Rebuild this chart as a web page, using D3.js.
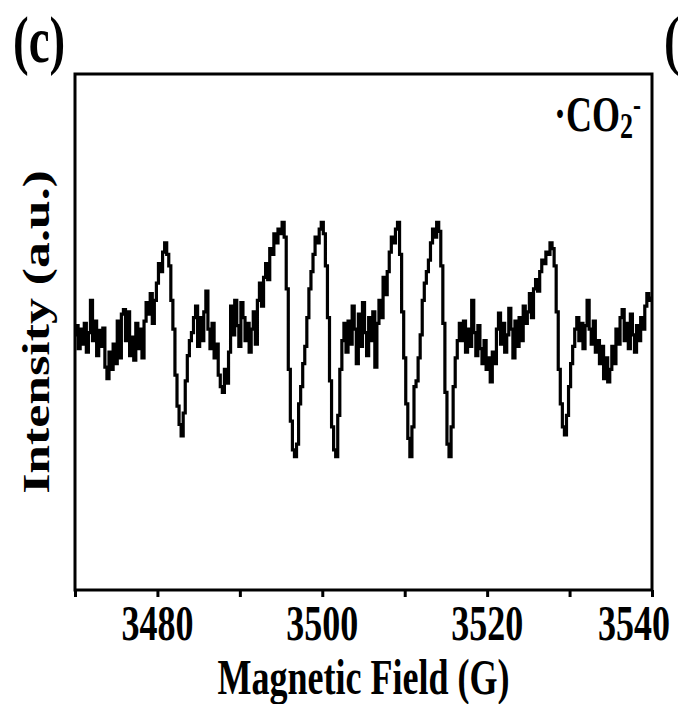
<!DOCTYPE html>
<html>
<head>
<meta charset="utf-8">
<script src="https://cdn.jsdelivr.net/npm/d3@7"></script>
<style>
  body { margin: 0; background: #fff; }
  svg text { font-family: "Liberation Serif", "Times New Roman", serif; font-weight: bold; fill: #000; }
</style>
</head>
<body>
<svg id="chart"></svg>
<script>
const width = 678
const height = 704
const margin = {left: 75, right: 26, top: 74, bottom: 114}

// field axis: sweep start, step (G) and tick labels
const fieldStart = 3470
const fieldEnd = 3540
const fieldStep = 0.25
const tickValues = [3470, 3480, 3490, 3500, 3510, 3520, 3530, 3540]
const tickLabels = ['', '3480', '', '3500', '', '3520', '', '3540']

// intensity (a.u.), one row per gauss (4 samples each)
const intensity = [
  0, 8, -12, 5,        // 3470
  -8, 10, -15, 2,
  30, -5, 12, -18,
  4, -10, 6, -28,
  -38, -15, -30, -8,
  -25, 12, -20, 18,    // 3475
  22, -5, 20, -18,
  -2, -22, 10, -12,
  5, -20, 12, 28,
  18, 36, 10, 30,
  45, 62, 55, 72,      // 3480
  80, 70, 60, 30,
  5, -35, -62, -78,
  -88, -68, -40, -18,
  -5, 2, 15, 25,
  -10, 15, -5, 20,     // 3485
  38, 5, -12, 10,
  -20, -8, -35, -45,
  -50, -30, -42, -15,
  25, 0, 30, 8,
  -10, 28, 15, -5,     // 3490
  10, -15, 5, 20,
  -8, 30, 45, 25,
  50, 62, 48, 75,
  70, 88, 80, 92,
  88, 98, 85, 40,      // 3495
  -30, -75, -100, -106,
  -95, -60, -45, -25,
  -10, 15, 40, 55,
  70, 85, 80, 92,
  98, 88, 60, 15,      // 3500
  -40, -80, -100, -106,
  -70, -30, -5, 10,
  -15, 12, -8, 25,
  5, -25, 18, -10,
  28, 2, -18, 15,      // 3505
  -5, 20, -28, 10,
  30, 15, 50, 35,
  55, 72, 85, 80,
  92, 98, 70, 20,
  -20, -60, -90, -106, // 3510
  -80, -45, -40, -20,
  0, 30, 45, 55,
  65, 80, 92, 85,
  98, 90, 60, 10,
  -50, -95, -106, -80, // 3515
  -45, -20, -5, 10,
  -5, 12, -15, 5,
  -10, 30, 2, -18,
  8, -12, -25, -5,
  -30, -20, -41, -15,  // 3520
  -25, 5, 19, -8,
  10, -15, 0, 23,
  5, -20, 12, -10,
  15, -5, 25, 10,
  20, 36, 15, 40,      // 3525
  48, 38, 55, 65,
  62, 72, 70, 80,
  75, 60, 20, -30,
  -60, -80, -87, -70,
  -45, -25, -10, 5,    // 3530
  15, -5, 10, -12,
  8, 30, 5, -8,
  12, -15, -5, -25,
  -10, -38, -20, -41,
  -30, -10, -25, 5,    // 3535
  -8, 15, 22, -5,
  10, -12, 18, 0,
  -15, 8, -5, 15,
  5, 25, 36, 30,
  32                   // 3540
]

const field = d3.range(intensity.length).map(i => fieldStart + i * fieldStep)
const spectrum = field.map((f, i) => ({field: f, value: intensity[i]}))

const svg = d3.select('#chart').attr('width', width).attr('height', height)

const x = d3.scaleLinear()
  .domain([fieldStart, fieldEnd])
  .range([margin.left, width - margin.right])
const y = d3.scaleLinear()
  .domain([-222, 227])
  .range([height - margin.bottom, margin.top])

// the figure is stretched vertically, so the text is too
const stretch = 1.4

function label(txt, px, py, size, anchor) {
  return svg.append('text')
    .attr('transform', `translate(${px},${py}) scale(1,${stretch})`)
    .attr('text-anchor', anchor || 'middle')
    .style('font-size', size + 'px')
    .text(txt)
}

//trace
const line = d3.line()
  .x(d => x(d.field))
  .y(d => y(d.value))
  .curve(d3.curveStep)

svg.append('path')
  .datum(spectrum)
  .attr('fill', 'none')
  .attr('stroke', '#000')
  .attr('stroke-width', 3.2)
  .attr('stroke-linejoin', 'miter')
  .attr('d', line)

//frame
svg.append('rect')
  .attr('x', x(fieldStart))
  .attr('y', y.range()[1])
  .attr('width', x(fieldEnd) - x(fieldStart))
  .attr('height', y.range()[0] - y.range()[1])
  .attr('fill', 'none')
  .attr('stroke', '#000')
  .attr('stroke-width', 3)

//bottom axis
const xAxis = d3.axisBottom(x)
  .tickValues(tickValues)
  .tickSize(7)
  .tickFormat('')

const gx = svg.append('g')
  .attr('transform', `translate(0,${y.range()[0]})`)
  .call(xAxis)
gx.select('.domain').remove()
gx.selectAll('.tick line').attr('stroke', '#000').attr('stroke-width', 3)

tickValues.forEach((v, i) => {
  if (!tickLabels[i]) return
  const px = v === fieldEnd ? x(v) - 18 : x(v)
  label(tickLabels[i], px, 640, 36)
})

//axis titles
label('Magnetic Field (G)', (x.range()[0] + x.range()[1]) / 2, 694, 36)

svg.append('text')
  .attr('transform', `translate(49,${(y.range()[0] + y.range()[1]) / 2}) scale(1,${stretch}) rotate(-90)`)
  .attr('text-anchor', 'middle')
  .style('font-size', '37px')
  .text('Intensity (a.u.)')

//panel letters
label('(c)', 13, 62, 47, 'start')
label('(d)', 664, 62, 47, 'start')

//species label
const sp = svg.append('text')
  .attr('transform', `translate(641,131) scale(1,${stretch})`)
  .attr('text-anchor', 'end')
  .style('font-size', '36px')
sp.append('tspan').text('\u00b7CO')
sp.append('tspan').attr('dy', 5).style('font-size', '26px').text('2')
sp.append('tspan').attr('dy', -16).style('font-size', '24px').text('-')
</script>
</body>
</html>
